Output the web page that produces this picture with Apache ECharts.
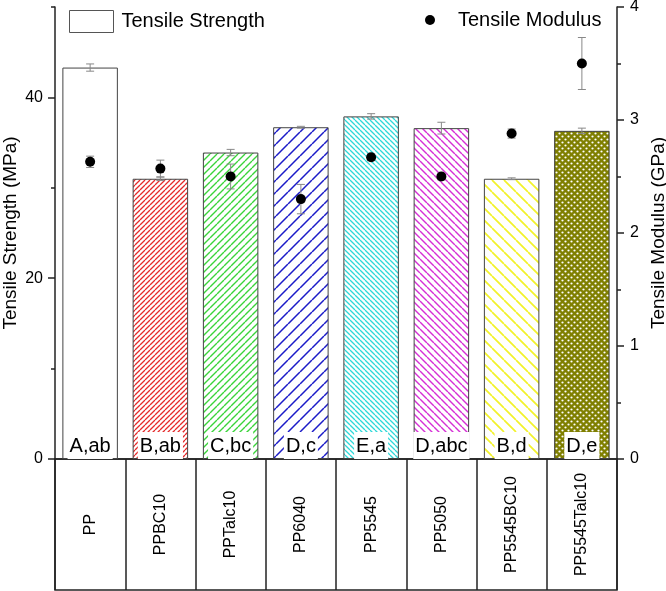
<!DOCTYPE html>
<html><head><meta charset="utf-8">
<script src="https://cdn.jsdelivr.net/npm/echarts@6/dist/echarts.min.js"></script>
<style>html,body{margin:0;padding:0;background:#fff}#c{width:666px;height:591px}</style>
</head><body><div id="c"></div>
<script>
const categories = ['PP','PPBC10','PPTalc10','PP6040','PP5545','PP5050','PP5545BC10','PP5545Talc10'];
const strength = [43.3, 31.0, 33.9, 36.7, 37.9, 36.6, 31.0, 36.3];
const strengthErr = [0.4, 0.2, 0.35, 0.1, 0.3, 0.65, 0.1, 0.3];
const modulus = [2.63, 2.57, 2.50, 2.30, 2.67, 2.50, 2.88, 3.50];
const modulusErr = [0.05, 0.075, 0.11, 0.13, 0.03, 0.03, 0.04, 0.23];
const letters = ['A,ab','B,ab','C,bc','D,c','E,a','D,abc','B,d','D,e'];
const leftLabelTicks = [0, 20, 40];
const leftMinorTicks = [10, 30, 50];

const FONT = '"Liberation Sans", Arial, Helvetica, sans-serif';

function hatch(color, s, dir, lw) {
  const c = document.createElement('canvas'); c.width = s; c.height = s;
  const ctx = c.getContext('2d');
  ctx.fillStyle = '#fff'; ctx.fillRect(0, 0, s, s);
  ctx.strokeStyle = color; ctx.lineWidth = lw;
  ctx.beginPath();
  for (let k = -1; k <= 1; k++) {
    if (dir === '/') { ctx.moveTo(k * s, s); ctx.lineTo(k * s + s, 0); }
    else { ctx.moveTo(k * s, 0); ctx.lineTo(k * s + s, s); }
  }
  ctx.stroke();
  return { image: c, repeat: 'repeat' };
}
function dots(bg, fg, s, r) {
  const c = document.createElement('canvas'); c.width = s; c.height = s;
  const ctx = c.getContext('2d');
  ctx.fillStyle = bg; ctx.fillRect(0, 0, s, s);
  ctx.fillStyle = fg;
  [[s / 4, s / 4], [3 * s / 4, 3 * s / 4]].forEach(p => {
    ctx.beginPath(); ctx.arc(p[0], p[1], r, 0, Math.PI * 2); ctx.fill();
  });
  return { image: c, repeat: 'repeat' };
}
const fills = [
  '#ffffff',
  hatch('#e52b2b', 5, '/', 1.3),
  hatch('#3ad43a', 7, '/', 1.4),
  hatch('#1c1cc8', 12, '/', 1.5),
  hatch('#2fd8d8', 5, '\\', 1.3),
  hatch('#d62fd6', 7, '\\', 1.4),
  hatch('#f2f22a', 12, '\\', 1.7),
  dots('#7f7f00', '#ffffff', 6, 1.1)
];

function errRender(params, api) {
  const x = api.value(0), lo = api.value(1), hi = api.value(2);
  const p1 = api.coord([x, lo]), p2 = api.coord([x, hi]);
  const w = 4;
  const st = { stroke: '#888', lineWidth: 1 };
  return { type: 'group', children: [
    { type: 'line', shape: { x1: p1[0], y1: p1[1], x2: p2[0], y2: p2[1] }, style: st },
    { type: 'line', shape: { x1: p1[0] - w, y1: p1[1], x2: p1[0] + w, y2: p1[1] }, style: st },
    { type: 'line', shape: { x1: p2[0] - w, y1: p2[1], x2: p2[0] + w, y2: p2[1] }, style: st }
  ]};
}

const chart = echarts.init(document.getElementById('c'));
const axisLineStyle = { color: '#222', width: 1.5 };
chart.setOption({
  animation: false,
  backgroundColor: '#fff',
  textStyle: { fontFamily: FONT },
  grid: [
    { left: 55, right: 49, top: 7, bottom: 132, outerBoundsMode: 'none', containLabel: false },
    { left: 55, right: 49, top: 459, bottom: 1, outerBoundsMode: 'none', containLabel: false,
      show: true, borderColor: '#222', borderWidth: 1.5, backgroundColor: 'transparent' }
  ],
  legend: [
    { left: 69, top: 10, padding: 0, itemWidth: 44, itemHeight: 22, selectedMode: false,
      textStyle: { fontSize: 20, color: '#000', fontFamily: FONT, padding: [0, 0, 0, 3] },
      data: [{ name: 'Tensile Strength', icon: 'rect', itemStyle: { color: '#fff', borderColor: '#555', borderWidth: 1 } }] },
    { left: 425, top: 10, padding: 0, itemWidth: 10, itemHeight: 22, selectedMode: false,
      textStyle: { fontSize: 20, color: '#000', fontFamily: FONT, padding: [0, 0, 0, 18] },
      data: [{ name: 'Tensile Modulus', icon: 'circle', itemStyle: { color: '#000', opacity: 1 } }] }
  ],
  xAxis: [
    { type: 'category', gridIndex: 0, data: categories, boundaryGap: true,
      axisLine: { show: true, lineStyle: axisLineStyle }, axisTick: { show: false }, axisLabel: { show: false }, splitLine: { show: false } },
    { type: 'category', gridIndex: 1, data: categories, boundaryGap: true,
      axisLine: { show: false }, axisTick: { show: false }, axisLabel: { show: false },
      splitLine: { show: true, interval: 0, lineStyle: { color: '#222', width: 1.5 } } }
  ],
  yAxis: [
    { type: 'value', gridIndex: 0, position: 'left', min: 0, max: 50,
      name: 'Tensile Strength (MPa)', nameLocation: 'middle', nameRotate: 90, nameGap: 35, nameMoveOverlap: false,
      nameTextStyle: { fontSize: 19, color: '#000', fontFamily: FONT },
      axisLine: { show: true, lineStyle: axisLineStyle },
      axisTick: { show: true, length: 7, customValues: leftLabelTicks, lineStyle: axisLineStyle },
      axisLabel: { customValues: leftLabelTicks, fontSize: 16, color: '#000', margin: 12, fontFamily: FONT },
      splitLine: { show: false } },
    { type: 'value', gridIndex: 0, position: 'right', min: 0, max: 4, interval: 1,
      name: 'Tensile Modulus (GPa)', nameLocation: 'middle', nameRotate: 90, nameGap: 32, nameMoveOverlap: false,
      nameTextStyle: { fontSize: 19, color: '#000', fontFamily: FONT },
      axisLine: { show: true, lineStyle: axisLineStyle },
      axisTick: { show: true, length: 7, lineStyle: axisLineStyle },
      minorTick: { show: true, splitNumber: 2, length: 4, lineStyle: axisLineStyle },
      axisLabel: { fontSize: 16, color: '#000', margin: 13, fontFamily: FONT },
      splitLine: { show: false } },
    { type: 'value', gridIndex: 1, min: 0, max: 1, show: false },
    { type: 'value', gridIndex: 0, position: 'left', min: 0, max: 50,
      axisLine: { show: false },
      axisTick: { show: true, length: 4, customValues: leftMinorTicks, lineStyle: axisLineStyle },
      axisLabel: { show: false }, splitLine: { show: false } }
  ],
  series: [
    { name: 'Tensile Strength', type: 'bar', xAxisIndex: 0, yAxisIndex: 0, barWidth: '79%',
      itemStyle: { color: '#fff', borderColor: '#444', borderWidth: 1 },
      data: strength.map((v, i) => ({ value: v, itemStyle: { color: fills[i], borderColor: '#444', borderWidth: 1 } })),
      label: { show: true, position: 'insideBottom', distance: 0, formatter: p => letters[p.dataIndex],
        fontSize: 20, fontFamily: FONT, color: '#000', backgroundColor: '#fff', padding: [4, 2, 3, 2] } },
    { name: 'sErr', type: 'custom', xAxisIndex: 0, yAxisIndex: 0, silent: true,
      data: strength.map((v, i) => [i, v - strengthErr[i], v + strengthErr[i]]),
      encode: { x: 0, y: [1, 2] }, renderItem: errRender, z: 3 },
    { name: 'mErr', type: 'custom', xAxisIndex: 0, yAxisIndex: 1, silent: true,
      data: modulus.map((v, i) => [i, v - modulusErr[i], v + modulusErr[i]]),
      encode: { x: 0, y: [1, 2] }, renderItem: errRender, z: 3 },
    { name: 'Tensile Modulus', type: 'scatter', xAxisIndex: 0, yAxisIndex: 1, symbol: 'circle', symbolSize: 10,
      itemStyle: { color: '#000', opacity: 1 }, data: modulus, z: 4 },
    { name: 'tableLabels', type: 'custom', xAxisIndex: 1, yAxisIndex: 2, silent: true,
      data: categories.map((c, i) => [i, 0.5]), encode: { x: 0, y: 1 },
      renderItem: (params, api) => {
        const p = api.coord([api.value(0), api.value(1)]);
        return { type: 'text', x: p[0], y: p[1], rotation: Math.PI / 2,
          style: { text: categories[params.dataIndex], font: '16px ' + FONT, fill: '#000', align: 'center', verticalAlign: 'middle' } };
      } }
  ]
});
</script></body></html>
